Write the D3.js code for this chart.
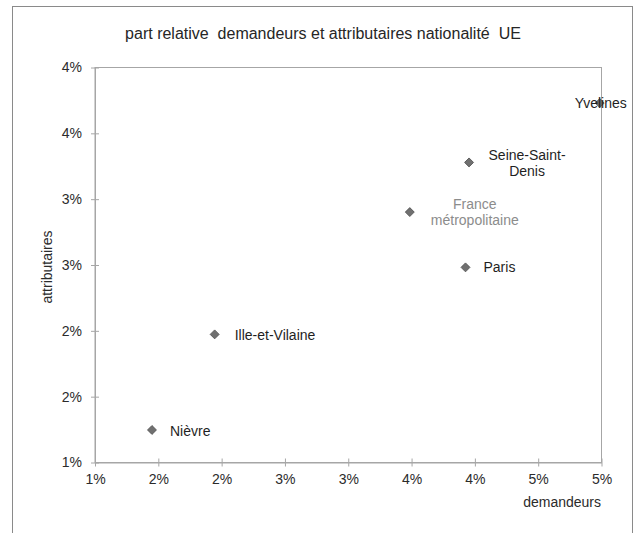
<!DOCTYPE html>
<html>
<head>
<meta charset="utf-8">
<script src="https://cdn.jsdelivr.net/npm/d3@7"></script>
<style>
  html, body { margin: 0; padding: 0; background: #fff; }
  svg { display: block; font-family: "Liberation Sans", Arial, sans-serif; }
</style>
</head>
<body>
<svg id="chart" width="641" height="533"></svg>
<script>
// Share of EU-national applicants (demandeurs) vs recipients (attributaires), in %
const territoires = ["Nièvre", "Ille-et-Vilaine", "France métropolitaine", "Paris", "Seine-Saint-Denis", "Yvelines"];
const demandeurs = [1.45, 1.945, 3.486, 3.926, 3.954, 4.986];
const attributaires = [1.247, 1.973, 2.902, 2.482, 3.279, 3.730];
const xTicks = [1, 1.5, 2, 2.5, 3, 3.5, 4, 4.5, 5];
const yTicks = [1, 1.5, 2, 2.5, 3, 3.5, 4];

// Label placement relative to each marker
const labelLayout = {
  "Nièvre": { dx: 18, lines: ["Nièvre"], anchor: "start", dy: [6] },
  "Ille-et-Vilaine": { dx: 20, lines: ["Ille-et-Vilaine"], anchor: "start", dy: [6] },
  "France métropolitaine": { dx: 65, lines: ["France", "métropolitaine"], anchor: "middle", dy: [-3, 13], color: "#8c8c8c" },
  "Paris": { dx: 18, lines: ["Paris"], anchor: "start", dy: [5] },
  "Seine-Saint-Denis": { dx: 58, lines: ["Seine-Saint-", "Denis"], anchor: "middle", dy: [-2, 14] },
  "Yvelines": { dx: 1, lines: ["Yvelines"], anchor: "middle", dy: [5] }
};

const points = territoires.map((t, i) => ({ name: t, x: demandeurs[i], y: attributaires[i] }));

const svg = d3.select("#chart");
const plot = { left: 95, right: 601.5, top: 67.5, bottom: 462.5 };

const x = d3.scaleLinear().domain([1, 5]).range([plot.left, plot.right]);
const y = d3.scaleLinear().domain([1, 4]).range([plot.bottom, plot.top]);
const fmt = v => d3.format(".0f")(v) + "%";

// outer chart frame (continues past the bottom edge)
svg.append("rect")
  .attr("x", 12.5).attr("y", 6.5)
  .attr("width", 620).attr("height", 560)
  .attr("fill", "#fff").attr("stroke", "#8a8a8a").attr("stroke-width", 1);

// plot area border
svg.append("rect")
  .attr("x", plot.left).attr("y", plot.top)
  .attr("width", plot.right - plot.left).attr("height", plot.bottom - plot.top)
  .attr("fill", "none").attr("stroke", "#a6a6a6").attr("stroke-width", 1);

// title
svg.append("text")
  .attr("x", 323).attr("y", 39)
  .attr("text-anchor", "middle")
  .attr("font-size", 16)
  .attr("fill", "#262626")
  .style("white-space", "pre")
  .text("part relative  demandeurs et attributaires nationalité  UE");

// x axis
const xAxis = d3.axisBottom(x).tickValues(xTicks).tickFormat(fmt).tickSizeInner(4).tickSizeOuter(0).tickPadding(8);
const gx = svg.append("g").attr("transform", `translate(0,${plot.bottom})`).call(xAxis);
gx.attr("font-size", 14).attr("font-family", "Liberation Sans, Arial, sans-serif");
gx.select(".domain").attr("stroke", "#a6a6a6");
gx.selectAll(".tick line").attr("stroke", "#a6a6a6").attr("y1", -4).attr("y2", 4);
gx.selectAll(".tick text").attr("fill", "#2b2b2b");

// y axis
const yAxis = d3.axisLeft(y).tickValues(yTicks).tickFormat(fmt).tickSizeInner(4).tickSizeOuter(0).tickPadding(9);
const gy = svg.append("g").attr("transform", `translate(${plot.left},0)`).call(yAxis);
gy.attr("font-size", 14).attr("font-family", "Liberation Sans, Arial, sans-serif");
gy.select(".domain").attr("stroke", "#a6a6a6");
gy.selectAll(".tick line").attr("stroke", "#a6a6a6").attr("x1", -4).attr("x2", 4);
gy.selectAll(".tick text").attr("fill", "#2b2b2b");

// axis titles
svg.append("text")
  .attr("x", 601).attr("y", 507)
  .attr("text-anchor", "end")
  .attr("font-size", 14).attr("fill", "#2b2b2b")
  .text("demandeurs");

svg.append("text")
  .attr("transform", "translate(52,267) rotate(-90)")
  .attr("text-anchor", "middle")
  .attr("font-size", 14).attr("fill", "#2b2b2b")
  .text("attributaires");

// diamond markers
svg.append("g").selectAll("path")
  .data(points)
  .join("path")
  .attr("d", d3.symbol().type(d3.symbolSquare).size(40))
  .attr("transform", d => `translate(${x(d.x)},${y(d.y)}) rotate(45)`)
  .attr("fill", "#707070")
  .attr("stroke", "#505050")
  .attr("stroke-width", 0.8);

// data labels
const labels = svg.append("g");
points.forEach(p => {
  const L = labelLayout[p.name];
  const t = labels.append("text")
    .attr("text-anchor", L.anchor)
    .attr("font-size", 14)
    .attr("fill", L.color || "#1f1f1f");
  L.lines.forEach((line, k) => {
    t.append("tspan")
      .attr("x", x(p.x) + L.dx)
      .attr("y", y(p.y) + L.dy[k])
      .text(line);
  });
});
</script>
</body>
</html>
